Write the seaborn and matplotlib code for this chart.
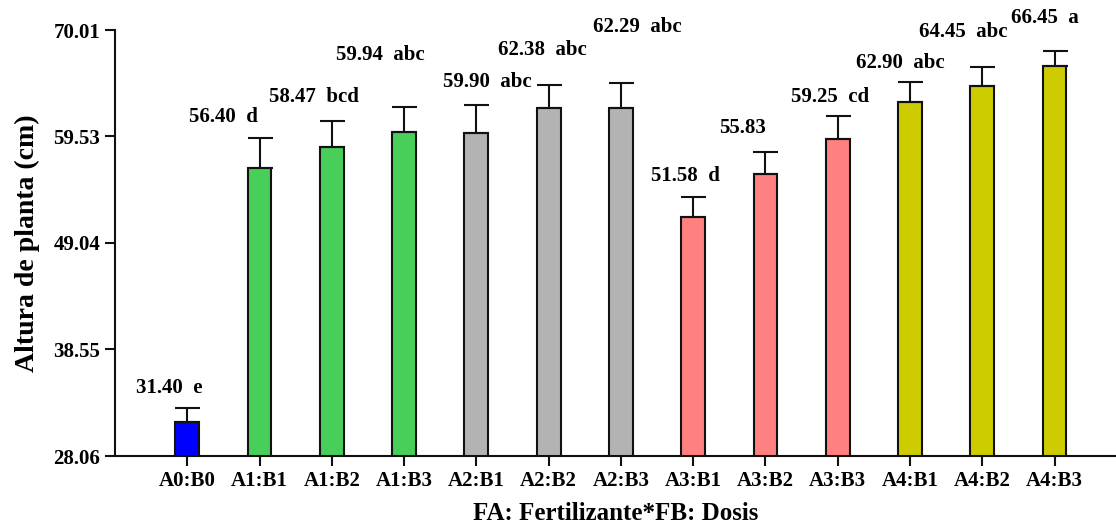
import matplotlib
matplotlib.use("Agg")
import matplotlib.pyplot as plt
import seaborn as sns
import pandas as pd
import numpy as np

# ---- data ----
categories = ["A0:B0", "A1:B1", "A1:B2", "A1:B3", "A2:B1", "A2:B2", "A2:B3",
              "A3:B1", "A3:B2", "A3:B3", "A4:B1", "A4:B2", "A4:B3"]
groups = ["A0", "A1", "A1", "A1", "A2", "A2", "A2", "A3", "A3", "A3", "A4", "A4", "A4"]
means = [31.40, 56.40, 58.47, 59.94, 59.90, 62.38, 62.29, 51.58, 55.83, 59.25, 62.90, 64.45, 66.45]
errors = [1.4, 2.95, 2.6, 2.45, 2.7, 2.2, 2.5, 2.0, 2.2, 2.25, 2.0, 1.9, 1.5]
letters = ["e", "d", "bcd", "abc", "abc", "abc", "abc", "d", "", "cd", "abc", "abc", "a"]
y_ticks = [28.06, 38.55, 49.04, 59.53, 70.01]

# ---- layout of the annotation labels (as in reference) ----
label_dx = [-0.25, -0.5, -0.25, -0.33, 0.15, -0.08, 0.23, -0.11, -0.32, -0.10, -0.14, -0.26, -0.14]
label_y = [34.76, 61.44, 63.41, 67.55, 64.89, 68.04, 70.30, 55.63, 60.36, 63.41, 66.76, 69.81, 71.19]

palette = {"A0": "#0000FF", "A1": "#47CF5A", "A2": "#B3B3B3", "A3": "#FF8080", "A4": "#CCCC00"}

sns.set_style("white")
plt.rcParams["font.family"] = ["Liberation Serif", "DejaVu Serif"]
plt.rcParams["font.weight"] = "bold"
for k in ["text.color", "axes.labelcolor", "xtick.color", "ytick.color"]:
    plt.rcParams[k] = "black"

df = pd.DataFrame({"cat": categories, "group": groups, "mean": means})

fig = plt.figure(figsize=(11.16, 5.27), dpi=100)
ax = fig.add_axes([0.103, 0.1347, 0.897, 0.8083])

sns.barplot(data=df, x="cat", y="mean", hue="group", palette=palette, dodge=False,
            width=0.33, errorbar=None, edgecolor="#111111", linewidth=1.5,
            saturation=1, legend=False, ax=ax, order=categories)

x = np.arange(len(categories))
ax.errorbar(x, means, yerr=[np.zeros(len(errors)), errors], fmt="none",
            ecolor="#111111", elinewidth=1.5, capsize=9, capthick=1.5, zorder=1)

for i in range(len(categories)):
    txt = f"{means[i]:.2f}" + (f"  {letters[i]}" if letters[i] else "")
    ax.text(x[i] + label_dx[i], label_y[i], txt, ha="center", va="center",
            fontsize=15, fontweight="bold", color="black", clip_on=False)

ax.set_ylim(28.06, 70.01)
ax.set_xlim(-1, 12.85)
ax.set_yticks(y_ticks)
ax.set_yticklabels([f"{v:.2f}" for v in y_ticks])
ax.set_xlabel("FA: Fertilizante*FB: Dosis", fontsize=18, fontweight="bold", labelpad=8)
ax.set_ylabel("Altura de planta (cm)", fontsize=20, fontweight="bold", labelpad=10)

for s in ["top", "right"]:
    ax.spines[s].set_visible(False)
for s in ["left", "bottom"]:
    ax.spines[s].set_linewidth(1.5)
    ax.spines[s].set_color("#111111")

ax.tick_params(axis="both", direction="out", length=7, width=1.5, color="#111111",
               labelsize=15, left=True, bottom=True, labelcolor="black")
for lab in ax.get_xticklabels() + ax.get_yticklabels():
    lab.set_fontweight("bold")

fig.savefig("out.png", dpi=100)
